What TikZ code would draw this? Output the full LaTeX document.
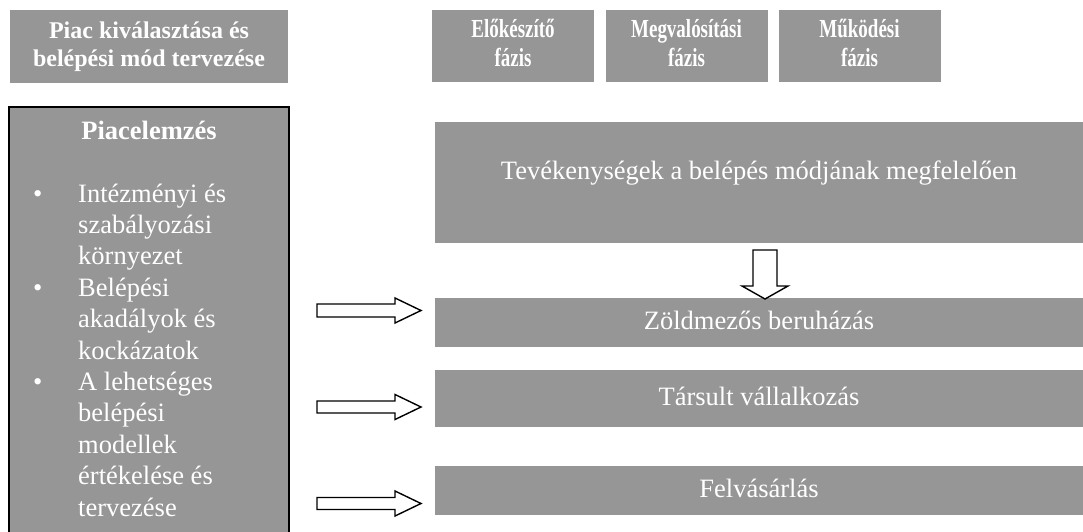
\documentclass[tikz,border=0pt]{standalone}
\usepackage{fontspec}
\usepackage{graphicx}
\setmainfont{Liberation Serif}
\definecolor{boxgray}{RGB}{150,150,150}
\newcommand\phasetext[1]{\scalebox{0.73}[1]{\begin{tabular}{@{}c@{}}#1\end{tabular}}}
\begin{document}
\begin{tikzpicture}[x=1pt,y=-1pt,
  gbox/.style={fill=boxgray, draw=none, inner sep=0pt, text=white},
  hdr/.style={gbox, align=center, font=\fontsize{24}{28}\selectfont\bfseries},
  phase/.style={gbox, font=\fontsize{26}{29}\selectfont\bfseries, minimum width=162, minimum height=72},
  body/.style={font=\fontsize{26.5}{31.4}\selectfont, text=white, inner sep=0pt},
  rowbox/.style={gbox, font=\fontsize{26.5}{31.4}\selectfont, minimum width=648, text height=13pt, text depth=0pt},
  blockarrow/.style={draw=black, fill=white, line width=1.4pt, line join=miter}]
\useasboundingbox (0,0) rectangle (1083,532);

% header boxes
\node[hdr, minimum width=278, minimum height=73] (h0) at (149,46.5) {Piac kiválasztása és\\belépési mód tervezése};
\node[phase] (hA) at (513,46) {\phasetext{Előkészítő\\fázis}};
\node[phase] (hB) at (686.5,46) {\phasetext{Megvalósítási\\fázis}};
\node[phase] (hC) at (859.5,46) {\phasetext{Működési\\fázis}};

% left analysis box
\node[gbox, minimum width=280, minimum height=440, anchor=north west] (left) at (9,107) {};
\draw[line width=2pt, black] (9,545) -- (9,107) -- (289,107) -- (289,545);
\node[body, font=\fontsize{26.5}{31.4}\selectfont\bfseries, anchor=base] (ltitle) at (149,139.5) {Piacelemzés};
\node[body, anchor=north west] (llist) at (33,180) {%
\begin{tabular}{@{}p{45pt}@{}l@{}}
•& Intézményi és\\
 & szabályozási\\
 & környezet\\
•& Belépési\\
 & akadályok és\\
 & kockázatok\\
•& A lehetséges\\
 & belépési\\
 & modellek\\
 & értékelése és\\
 & tervezése
\end{tabular}};

% right boxes
\node[rowbox, minimum height=121, text height=0pt, text depth=7pt] (tev) at (759,182.5) {Tevékenységek a belépés módjának megfelelően};
\node[rowbox, minimum height=49] (zold) at (759,322.5) {Zöldmezős beruházás};
\node[rowbox, minimum height=57] (tars) at (759,398.5) {Társult vállalkozás};
\node[rowbox, minimum height=49] (felv) at (759,490.5) {Felvásárlás};

% block arrows
\draw[blockarrow] (753,250) -- (777,250) -- (777,286) -- (788,286) -- (765,299) -- (742,286) -- (753,286) -- cycle;
\draw[blockarrow] (317,304) -- (395,304) -- (395,298) -- (421,310.5) -- (395,323) -- (395,317) -- (317,317) -- cycle;
\draw[blockarrow] (317,401) -- (395,401) -- (395,394.5) -- (421,407) -- (395,419.5) -- (395,413) -- (317,413) -- cycle;
\draw[blockarrow] (317,497.5) -- (395,497.5) -- (395,491) -- (421,503.5) -- (395,516) -- (395,509.5) -- (317,509.5) -- cycle;
\end{tikzpicture}
\end{document}
